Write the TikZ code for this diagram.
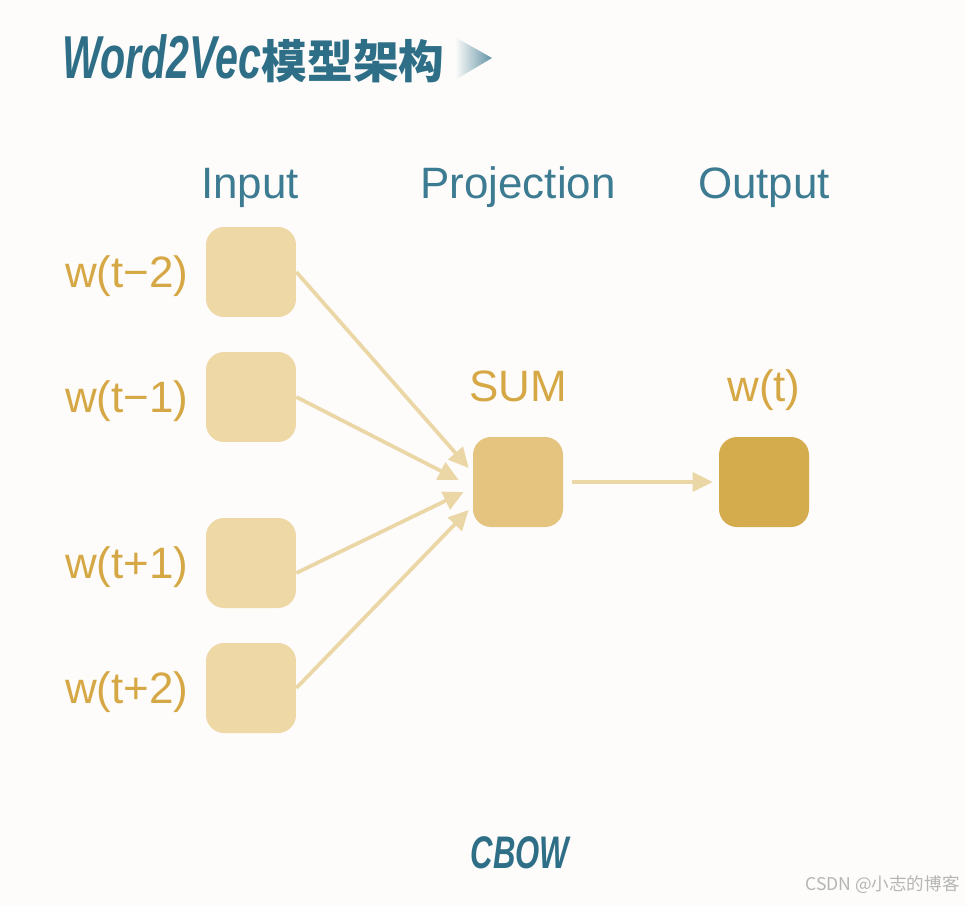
\documentclass[tikz,border=0pt]{standalone}
\usepackage{fontspec}
\setmainfont{Liberation Sans}
\newfontfamily\cjk{Noto Sans CJK SC}
\newfontfamily\condfont{Liberation Sans Bold Italic}[FakeStretch=0.68]
\usetikzlibrary{arrows.meta,positioning}
\definecolor{paper}{HTML}{FDFCFA}
\definecolor{deepteal}{HTML}{2E6F87}
\definecolor{headteal}{HTML}{3C7B91}
\definecolor{gold}{HTML}{D6A845}
\definecolor{boxlight}{HTML}{EDD8A6}
\definecolor{boxmid}{HTML}{E4C47F}
\definecolor{boxdark}{HTML}{D4AC4D}
\definecolor{feedline}{HTML}{EBD6A6}
\definecolor{markgray}{HTML}{B5B5B5}
\tikzset{cell/.style={rounded corners=.36cm,minimum size=1.8cm,inner sep=0pt}, head/.style={anchor=base,inner sep=0pt,text=headteal,font=\fontsize{25}{30}\selectfont}, word/.style={inner sep=0pt,text=gold,font=\fontsize{25}{30}\selectfont}, feed/.style={draw=feedline,line width=2.1pt,-{Triangle[length=.4cm,width=.38cm]}}}
\begin{document}
\begin{tikzpicture}[x=.02cm,y=-.02cm]
\fill[paper] (0,0) rectangle (966,906);
% title
\node[anchor=base west,inner sep=0pt,text=deepteal] (title) at (62,78) {\condfont\fontsize{34.5}{40}\selectfont Word2Vec{\cjk\bfseries\fontsize{26}{30}\selectfont 模型架构}};
\shade[left color=paper,right color=deepteal!75] (455,37) -- (455,80) -- (492,58) -- cycle;
\node[head] (hin) at (250,198) {Input};
\node[head] (hproj) at (518,198) {Projection};
\node[head] (hout) at (764,198) {Output};
\foreach \y/\n/\t in {272/0/t−2,397/1/t−1,563/2/t+1,688/3/t+2} {
 \node[cell,fill=boxlight] (in\n) at (251,\y) {};
 \node[word,left=.34cm of in\n,yshift=-.09cm] (w\n) {w(\t)};
}
\node[cell,fill=boxmid] (sum) at (518,482) {};
\node[word] (sumlab) at (518,386) {SUM};
\node[cell,fill=boxdark] (out) at (764,482) {};
\node[word] (outlab) at (764,390) {w(t)};
\draw[feed] (in0.east) -- ([shift={(-4,-14)}]sum.west);
\draw[feed] (in1.east) -- ([shift={(-14,-2)}]sum.west);
\draw[feed] ([yshift=-.2cm]in2.east) -- ([shift={(-9,10)}]sum.west);
\draw[feed] (in3.east) -- ([shift={(-4,28)}]sum.west);
\draw[feed,shorten <=.18cm,shorten >=.12cm] (sum) -- (out);
\node[inner sep=0pt,text=deepteal] (cbow) at (520,853) {\condfont\fontsize{26}{30}\selectfont CBOW};
\node[anchor=east,inner sep=0pt,text=markgray] (mark) at (960,885) {\cjk\fontsize{10}{12}\selectfont CSDN @小志的博客};
\end{tikzpicture}
\end{document}
